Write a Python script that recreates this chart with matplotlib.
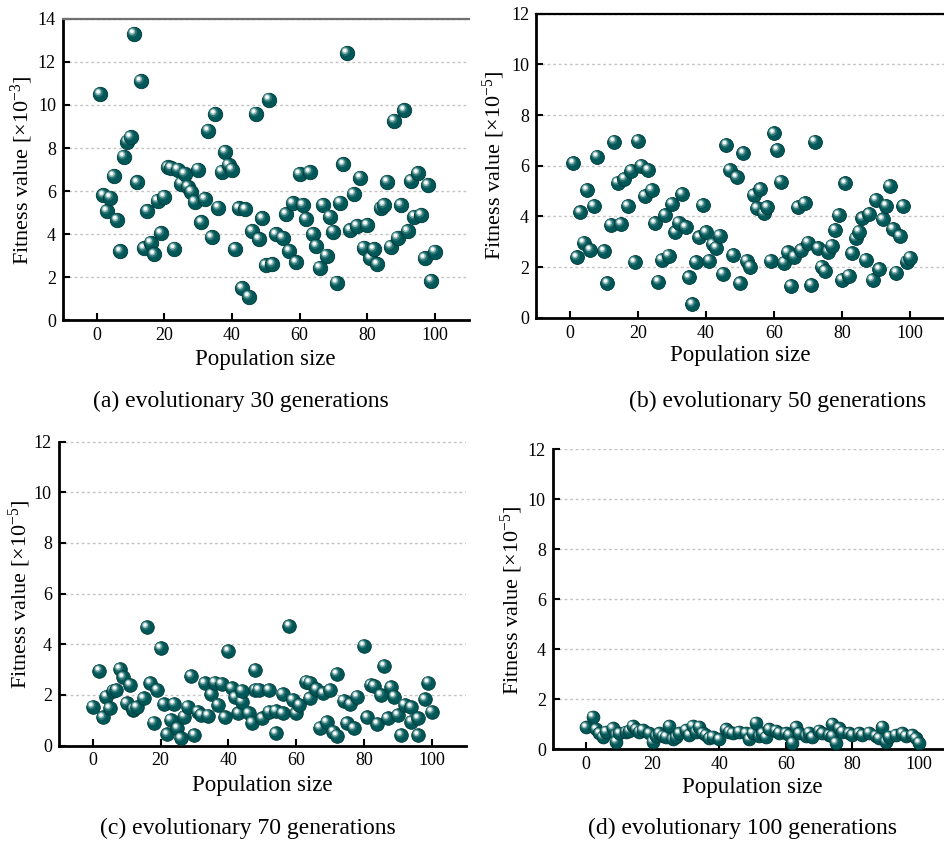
import matplotlib
matplotlib.use("Agg")
import matplotlib.pyplot as plt
from matplotlib.transforms import offset_copy

plt.rcParams["font.family"] = ["Liberation Serif", "DejaVu Serif"]
plt.rcParams["mathtext.fontset"] = "custom"
plt.rcParams["mathtext.rm"] = "Liberation Serif"
plt.rcParams["mathtext.it"] = "Liberation Serif:italic"

# (a) 30 generations, values x1e-3
a_x = [1, 2, 3, 4, 5, 6, 7, 8, 9, 10, 11, 12, 13, 14, 15, 16, 17, 18, 19, 20,
       21, 22, 23, 24, 25, 26, 27, 28, 29, 30, 31, 32, 33, 34, 35, 36, 37, 38, 39, 40,
       41, 42, 43, 44, 45, 46, 47, 48, 49, 50, 51, 52, 53, 55, 56, 57, 58, 59, 60,
       61, 62, 63, 64, 65, 66, 67, 68, 69, 70, 71, 72, 73, 74, 75, 76, 77, 78, 79, 80,
       81, 82, 83, 84, 85, 86, 87, 88, 89, 90, 91, 92, 93, 94, 95, 96, 97, 98, 99, 100]
a_y = [10.5, 5.8, 5.07, 5.7, 6.7, 4.65, 3.2, 7.6, 8.3, 8.5, 13.3, 6.4, 11.1, 3.34, 5.07, 3.6, 3.06, 5.55, 4.04, 5.74,
       7.1, 7.07, 3.33, 7.0, 6.35, 6.8, 6.2, 5.97, 5.5, 7.0, 4.55, 5.63, 8.8, 3.85, 9.57, 5.23, 6.9, 7.82, 7.2, 7.0,
       3.3, 5.2, 1.49, 5.15, 1.1, 4.14, 9.6, 3.77, 4.73, 2.55, 10.25, 2.6, 3.99, 3.83, 4.93, 3.22, 5.43, 2.69, 6.79,
       5.35, 4.7, 6.87, 4.0, 3.45, 2.44, 5.35, 3.0, 4.81, 4.11, 1.75, 5.46, 7.24, 12.41, 4.19, 5.86, 4.38, 6.62, 3.37, 4.42,
       2.88, 3.3, 2.6, 5.2, 5.35, 6.43, 3.42, 9.26, 3.83, 5.35, 9.75, 4.14, 6.48, 4.81, 6.82, 4.89, 2.88, 6.28, 1.83, 3.19]

# (b) 50 generations, values x1e-5
b_x = [1, 2, 3, 4, 5, 6, 7, 8, 10, 11, 12, 13, 14, 15, 16, 17, 18, 19, 20,
       21, 22, 23, 24, 25, 26, 27, 28, 29, 30, 31, 32, 33, 34, 35, 36, 37, 38, 39, 40,
       41, 42, 43, 44, 45, 46, 47, 48, 49, 50, 51, 52, 53, 54, 55, 56, 57, 58, 59, 60,
       61, 62, 63, 64, 65, 66, 67, 68, 69, 70, 71, 72, 73, 74, 75, 76, 77, 78, 79, 80,
       81, 82, 83, 84, 85, 86, 87, 88, 89, 90, 91, 92, 93, 94, 95, 96, 97, 98, 99, 100]
b_y = [6.10, 2.38, 4.16, 2.96, 5.04, 2.67, 4.41, 6.36, 2.63, 1.36,
       3.66, 6.95, 5.33, 3.70, 5.48, 4.41, 5.80, 2.19, 6.98, 6.00,
       4.80, 5.83, 5.04, 3.73, 1.42, 2.28, 4.05, 2.45, 4.49, 3.37,
       3.75, 4.88, 3.57, 1.59, 0.53, 2.19, 3.17, 4.44, 3.37, 2.25,
       2.90, 2.76, 3.24, 1.73, 6.82, 5.83, 2.47, 5.54, 1.36, 6.49,
       2.24, 2.01, 4.84, 4.32, 5.07, 4.12, 4.36, 2.24, 7.28, 6.62,
       5.37, 2.17, 2.58, 1.25, 2.41, 4.36, 2.67, 4.52, 2.96, 1.29,
       6.95, 2.74, 2.01, 1.84, 2.61, 2.84, 3.46, 4.05, 1.49, 5.30,
       1.66, 2.54, 3.13, 3.40, 3.92, 2.28, 4.09, 1.49, 4.65, 1.91,
       3.88, 4.42, 5.20, 3.50, 1.78, 3.22, 4.41, 2.21, 2.37]

# (c) 70 generations, values x1e-5
c_x = [0, 2, 3, 4, 5, 6, 7, 8, 9, 10, 11, 12, 12, 13, 15, 16, 17, 18, 19, 20,
       21, 22, 23, 24, 25, 26, 27, 28, 29, 30, 31, 32, 33, 34, 35, 36, 37, 38, 39, 40,
       41, 42, 43, 44, 44, 46, 47, 48, 48, 49, 50, 52, 52, 54, 54, 56, 56, 58, 59, 60,
       61, 63, 64, 64, 66, 67, 68, 69, 70, 71, 72, 72, 74, 75, 76, 77, 78, 80, 81, 82,
       83, 84, 85, 86, 87, 88, 89, 90, 91, 92, 94, 94, 96, 96, 98, 99, 100]
c_y = [1.53, 2.95, 1.11, 1.93, 1.47, 2.16, 2.19, 3.02, 2.69, 1.67,
       2.39, 1.40, 1.45, 1.51, 1.86, 4.67, 2.46, 0.90, 2.19, 3.84,
       1.63, 0.44, 1.01, 1.64, 0.68, 0.28, 1.14, 1.53, 2.74, 0.41,
       1.33, 1.20, 2.46, 1.18, 2.02, 2.48, 1.60, 2.43, 1.11, 3.73,
       2.26, 1.90, 1.27, 1.73, 2.16, 1.27, 0.90, 2.98, 2.19, 2.19,
       1.07, 2.19, 1.33, 0.48, 1.36, 2.03, 1.27, 4.72, 1.80, 1.27,
       1.60, 2.52, 2.48, 1.86, 2.22, 0.70, 2.06, 0.92, 2.19, 0.54,
       2.82, 0.39, 1.76, 0.88, 1.63, 0.68, 1.93, 3.94, 1.11, 2.39,
       2.35, 0.85, 1.99, 3.14, 1.07, 2.30, 1.93, 1.20, 0.41, 1.60,
       1.51, 0.94, 0.41, 1.07, 1.82, 2.48, 1.33]

# (d) 100 generations, values x1e-5
d_x = [2, 0, 3, 4, 5, 6, 8, 9, 9, 10, 12, 13, 14, 15, 16, 17, 19, 20, 21, 22,
       23, 24, 25, 26, 27, 28, 30, 31, 32, 33, 34, 35, 36, 37, 38, 40, 42, 43, 44, 46,
       48, 49, 50, 51, 52, 53, 54, 55, 57, 58, 60, 61, 62, 63, 64, 66, 67, 68, 70, 71,
       73, 74, 74, 75, 76, 77, 79, 80, 82, 83, 85, 87, 88, 89, 90, 91, 93, 95, 96, 98,
       99, 100]
d_y = [1.29, 0.87, 0.79, 0.63, 0.49, 0.69, 0.83, 0.56, 0.29, 0.63, 0.69, 0.72, 0.92, 0.79, 0.69, 0.76, 0.63, 0.29, 0.52, 0.63,
       0.52, 0.49, 0.92, 0.39, 0.47, 0.63, 0.76, 0.56, 0.92, 0.69, 0.89, 0.63, 0.56, 0.43, 0.49, 0.39, 0.79, 0.69, 0.63, 0.69,
       0.63, 0.39, 0.63, 1.05, 0.52, 0.63, 0.47, 0.79, 0.73, 0.65, 0.63, 0.56, 0.25, 0.87, 0.63, 0.52, 0.65, 0.47, 0.73, 0.63,
       0.56, 1.00, 0.52, 0.25, 0.83, 0.69, 0.63, 0.56, 0.63, 0.56, 0.65, 0.52, 0.43, 0.89, 0.29, 0.49, 0.56, 0.63, 0.52, 0.56,
       0.43, 0.25]

W, H = 944, 846
BALL = "#005757"


def px_rect(left, right, top, bottom):
    return [left / W, 1 - bottom / H, (right - left) / W, (bottom - top) / H]


def draw_balls(ax, xs, ys, d):
    # layered circles to fake the shaded spheres; d = diameter in points
    layers = [
        (1.00, 0.00, 0.00, BALL),
        (0.64, -0.10, 0.12, "#2b7373"),
        (0.44, -0.13, 0.15, "#8cbaba"),
        (0.26, -0.14, 0.17, "#ffffff"),
    ]
    fig = ax.figure
    for i, (x, y) in enumerate(zip(xs, ys)):
        z = 3 + i * 0.01
        for k, (f, dx, dy, col) in enumerate(layers):
            tr = offset_copy(ax.transData, fig=fig, x=dx * d, y=dy * d, units="points")
            ax.scatter([x], [y], s=(f * d) ** 2, color=col, transform=tr,
                       edgecolors="#003838" if k == 0 else "none",
                       linewidths=0.6 if k == 0 else 0, zorder=z + k * 0.001,
                       clip_on=False)


def style_axes(ax, ymax, top_color):
    ax.set_xlim(-10, 110)
    ax.set_ylim(0, ymax)
    ax.set_xticks([0, 20, 40, 60, 80, 100])
    ax.set_yticks(range(0, ymax + 1, 2))
    ax.spines["right"].set_visible(False)
    for s in ("left", "bottom"):
        ax.spines[s].set_linewidth(2.0)
        ax.spines[s].set_color("black")
    if top_color is None:
        ax.spines["top"].set_visible(False)
    else:
        ax.spines["top"].set_color(top_color)
        ax.spines["top"].set_linewidth(1.6)
    ax.yaxis.grid(True, linestyle=(0, (2, 2)), color="#c4c4c4", linewidth=1.0)
    ax.set_axisbelow(True)
    ax.tick_params(direction="in", length=5, width=1.5, labelsize=13, pad=5,
                   top=False, right=False)


fig = plt.figure(figsize=(W / 100, H / 100), dpi=100)

panels = [
    (px_rect(62.9, 468.5, 18.7, 320.4), a_x, a_y, 14, "#707070", 10.4, -3,
     (22, 170), (265, 360), (241, 401), "(a) evolutionary 30 generations"),
    (px_rect(536, 944, 13.7, 317.7), b_x, b_y, 12, "black", 10.0, -5,
     (494, 165), (740, 355), (778, 401), "(b) evolutionary 50 generations"),
    (px_rect(58.8, 465.6, 441.5, 745.5), c_x, c_y, 12, None, 9.8, -5,
     (20, 594), (262, 785), (248, 828), "(c) evolutionary 70 generations"),
    (px_rect(552.7, 952.3, 449, 749), d_x, d_y, 12, None, 9.2, -5,
     (512, 600), (752, 787), (742, 828), "(d) evolutionary 100 generations"),
]

for rect, xs, ys, ymax, top_color, dia, expo, ylab, xlab, cap, caption in panels:
    ax = fig.add_axes(rect)
    style_axes(ax, ymax, top_color)
    draw_balls(ax, xs, ys, dia)
    fig.text(ylab[0] / W, 1 - ylab[1] / H,
             r"Fitness value [$\times$10$^{%d}$]" % expo,
             rotation=90, ha="center", va="center", fontsize=16)
    fig.text(xlab[0] / W, 1 - xlab[1] / H, "Population size",
             ha="center", va="center", fontsize=16.5)
    fig.text(cap[0] / W, 1 - cap[1] / H, caption,
             ha="center", va="center", fontsize=17)

fig.savefig("out.png", dpi=100)
